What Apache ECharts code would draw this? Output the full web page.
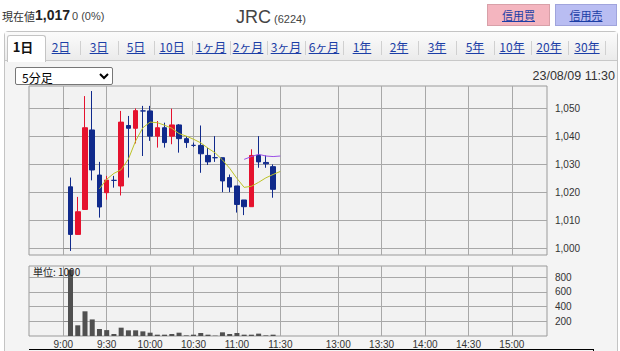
<!DOCTYPE html>
<html><head><meta charset="utf-8">
<script src="https://cdn.jsdelivr.net/npm/echarts@6/dist/echarts.min.js"></script>
<style>
html,body{margin:0;padding:0;}
body{width:620px;height:351px;overflow:hidden;background:#fff;position:relative;font-family:"Liberation Sans","Noto Sans CJK JP",sans-serif;color:#333;}
.abs{position:absolute;white-space:nowrap;}
#panel{position:absolute;left:4px;top:31px;width:612px;height:340px;border:1px solid #c4c4c4;border-radius:4px;background:#f4f4f4;z-index:0;}
#tabbar{position:absolute;left:5px;top:32px;width:612px;height:28px;background:linear-gradient(#fbfbfb,#ebebeb);border-bottom:1px solid #c8c8c8;z-index:1;}
#seltab{position:absolute;left:7px;top:35px;width:37px;height:26px;background:#fff;border:1px solid #c4c4c4;border-bottom:none;border-radius:3px 3px 0 0;z-index:2;}
.tab{position:absolute;top:39px;font-size:12px;color:#1b3ea6;text-decoration:underline;z-index:3;font-family:"Noto Sans CJK JP",sans-serif;line-height:16px;}
.sep{position:absolute;top:41px;width:1px;height:14px;background:#d0d0d0;z-index:3;}
.btn{position:absolute;top:4px;height:20px;border:1px solid #d8a0a8;font-size:11px;line-height:20px;text-align:center;color:#1b3ea6;text-decoration:underline;font-family:"Noto Sans CJK JP",sans-serif;z-index:3;}
#chart{position:absolute;left:0;top:0;width:620px;height:351px;z-index:4;}
.top{z-index:5;}
</style></head>
<body>
<div id="panel"></div>
<div id="tabbar"></div>
<div id="seltab"></div>
<div id="tabs"></div>
<div class="abs top" style="left:2px;top:9px;font-size:11px;font-family:'Noto Sans CJK JP',sans-serif;line-height:14px;">現在値</div>
<div class="abs top" style="left:35px;top:6px;font-size:14px;font-weight:bold;color:#222;line-height:18px;">1,017</div>
<div class="abs top" style="left:72px;top:9px;font-size:11px;color:#444;line-height:14px;">0 (0%)</div>
<div class="abs top" style="left:236px;top:7px;font-size:18px;color:#444;line-height:20px;">JRC<span style="font-size:11px;"> (6224)</span></div>
<div class="btn top" style="left:487px;width:61px;background:#f4b5bf;">信用買</div>
<div class="btn top" style="left:555px;width:60px;background:#b9bdf2;border-color:#a0a4dc;">信用売</div>
<select class="abs top" style="left:15px;top:67px;width:98px;height:18px;font-size:12px;padding:0 2px;font-family:'Noto Sans CJK JP',sans-serif;background:#fff;border:1px solid #777;border-radius:2px;"><option>5分足</option></select>
<div class="abs top" style="right:5px;top:69px;font-size:12.5px;color:#333;line-height:14px;">23/08/09 11:30</div>
<div class="abs top" style="left:29px;top:349px;width:564px;height:4px;border-top:1px solid #000;border-right:1px solid #000;"></div>
<div id="chart"></div>
<script>
// ---- data ----
const candleTimes = ['9:05','9:10','9:15','9:20','9:25','9:30','9:35','9:40','9:45','9:50','9:55','10:00','10:05','10:10','10:15','10:20','10:25','10:30','10:35','10:40','10:45','10:50','10:55','11:00','11:05','11:10','11:15','11:20','11:25'];
const opens  = [1022.1,1005.1,1014.0,1042.4,1026.3,1020.0,1024.4,1022.4,1044.0,1043.0,1049.2,1049.2,1040.2,1043.2,1040.2,1044.2,1039.3,1036.9,1036.9,1033.3,1032.5,1032.5,1025.4,1022.4,1017.4,1015.0,1033.3,1030.8,1029.3];
const closes = [1005.1,1013.2,1043.2,1028.1,1014.9,1024.5,1024.4,1045.2,1043.0,1049.3,1049.2,1040.2,1043.2,1037.9,1044.2,1039.3,1037.9,1036.9,1033.9,1031.0,1032.5,1024.2,1022.0,1015.8,1015.0,1033.3,1031.0,1030.3,1021.2];
const lows   = [999.2,1005.0,1014.0,1024.4,1011.1,1017.5,1021.8,1019.0,1025.4,1037.6,1033.1,1038.5,1036.1,1036.1,1037.3,1034.3,1036.0,1036.3,1027.1,1029.9,1031.0,1020.2,1020.2,1012.9,1012.0,1015.0,1028.9,1028.9,1018.2];
const highs  = [1025.4,1018.5,1054.5,1056.3,1031.0,1026.0,1026.0,1049.2,1047.4,1050.1,1051.0,1051.0,1045.6,1045.0,1050.0,1044.5,1040.2,1037.9,1044.0,1036.0,1040.2,1032.5,1026.5,1022.4,1017.4,1035.5,1040.2,1033.3,1030.1];
const volumes = [900,145,335,225,95,80,27,113,77,77,63,45,18,18,27,45,8,18,41,18,5,50,27,41,18,18,32,8,18];
const ma5Times = ['9:25','9:30','9:35','9:40','9:45','9:50','9:55','10:00','10:05','10:10','10:15','10:20','10:25','10:30','10:35','10:40','10:45','10:50','10:55','11:00','11:05','11:10','11:15','11:20','11:25','11:30'];
const ma5 = [1021.4,1024.8,1026.9,1028.2,1032.0,1038.5,1043.2,1045.2,1045.0,1044.1,1043.0,1041.1,1040.2,1039.1,1037.8,1035.9,1034.2,1031.7,1028.7,1025.1,1021.9,1022.3,1023.7,1025.3,1026.5,1027.6];
const ma25Times = ['11:05','11:10','11:15','11:20','11:25','11:30'];
const ma25 = [1031.9,1032.9,1033.7,1033.1,1032.9,1033.1];
const timeTicks = ['9:00','9:30','10:00','10:30','11:00','11:30','13:00','13:30','14:00','14:30','15:00'];
const priceTicks = [1000,1010,1020,1030,1040,1050];
const volumeTicks = [200,400,600,800];
const tabLabels = ['1日','2日','3日','5日','10日','1ヶ月','2ヶ月','3ヶ月','6ヶ月','1年','2年','3年','5年','10年','20年','30年'];
const tabCenters = [23,61,99,136,172,211,248,286,324,362,399,437,475,512,549,587];

// ---- tabs (page chrome) ----
(function(){
  const host = document.getElementById('tabs');
  tabLabels.forEach((t,i)=>{
    const d = document.createElement('div');
    d.className='tab'; d.textContent=t;
    if(i===0){d.style.color='#111';d.style.textDecoration='none';d.style.fontWeight='bold';d.style.fontSize='13px';}
    host.appendChild(d);
    const w = d.getBoundingClientRect().width;
    d.style.left=(tabCenters[i]-w/2)+'px';
    if(i>1){
      const s=document.createElement('div'); s.className='sep';
      s.style.left=((tabCenters[i-1]+tabCenters[i])/2)+'px';
      host.appendChild(s);
    }
  });
  const s=document.createElement('div'); s.className='sep'; s.style.left='605px'; host.appendChild(s);
})();

// ---- chart ----
function toAxis(t){ const p=t.split(':').map(Number); let m=(p[0]-9)*60+p[1]; if(m>=210) m-=50; return m; }
const tickPos = timeTicks.map(toAxis);
const candleData = candleTimes.map((t,i)=>[toAxis(t),opens[i],closes[i],lows[i],highs[i]]);
const volData = candleTimes.map((t,i)=>[toAxis(t),volumes[i]]);
const ma5Data = ma5Times.map((t,i)=>[toAxis(t),ma5[i]]);
const ma25Data = ma25Times.map((t,i)=>[toAxis(t),ma25[i]]);
const RED='#e5122e', BLUE='#102a8c', GRID='#a8a8a8';
const labelFont = {fontSize:10,color:'#333',fontFamily:'Liberation Sans'};

const chart = echarts.init(document.getElementById('chart'), null, {renderer:'svg'});
chart.setOption({
  animation:false,
  grid:[
    {left:29,top:86,width:518,height:169,show:true,borderColor:'#9a9a9a',borderWidth:1,backgroundColor:'#f2f2f2'},
    {left:29,top:266,width:518,height:70,show:true,borderColor:'#9a9a9a',borderWidth:1,backgroundColor:'#f2f2f2'}
  ],
  xAxis:[
    {type:'value',gridIndex:0,min:-23.7,max:334.3,axisLine:{show:false},
     axisTick:{show:false,customValues:tickPos},axisLabel:{show:false,customValues:tickPos},
     splitLine:{show:true,lineStyle:{color:GRID,width:1}}},
    {type:'value',gridIndex:1,min:-23.7,max:334.3,axisLine:{show:false},
     axisTick:{show:false,customValues:tickPos},
     axisLabel:Object.assign({show:true,customValues:tickPos,margin:3,
       formatter:v=>{const i=tickPos.indexOf(v);return i>=0?timeTicks[i]:'';}},labelFont),
     splitLine:{show:true,lineStyle:{color:GRID,width:1}}}
  ],
  yAxis:[
    {type:'value',gridIndex:0,position:'right',min:997.75,max:1058.1,axisLine:{show:false},
     axisTick:{show:true,length:6,customValues:priceTicks,lineStyle:{color:'#8a8a8a'}},
     axisLabel:Object.assign({customValues:priceTicks,margin:8,formatter:v=>v.toLocaleString('en-US')},labelFont),
     splitLine:{show:true,lineStyle:{color:GRID,width:1}}},
    {type:'value',gridIndex:1,position:'right',min:0,max:950,axisLine:{show:false},
     axisTick:{show:true,length:6,customValues:volumeTicks,lineStyle:{color:'#8a8a8a'}},
     axisLabel:Object.assign({customValues:volumeTicks,margin:8},labelFont),
     splitLine:{show:true,lineStyle:{color:GRID,width:1}}}
  ],
  graphic:[{type:'text',left:33,top:266,z:10,style:{text:'単位: 1000',font:'10px "Noto Sans CJK JP"',fill:'#222'}}],
  series:[
    {type:'candlestick',xAxisIndex:0,yAxisIndex:0,barWidth:5,data:candleData,encode:{x:0,y:[1,2,3,4]},
     itemStyle:{color:RED,color0:BLUE,borderColor:RED,borderColor0:BLUE,borderColorDoji:BLUE,borderWidth:1}},
    {type:'line',xAxisIndex:0,yAxisIndex:0,data:ma5Data,showSymbol:false,lineStyle:{color:'#bcc226',width:1},z:5},
    {type:'line',xAxisIndex:0,yAxisIndex:0,data:ma25Data,showSymbol:false,lineStyle:{color:'#9b4fe6',width:1},z:5},
    {type:'bar',xAxisIndex:1,yAxisIndex:1,barWidth:5,data:volData,itemStyle:{color:'#505050'}}
  ]
});
</script>
</body></html>
